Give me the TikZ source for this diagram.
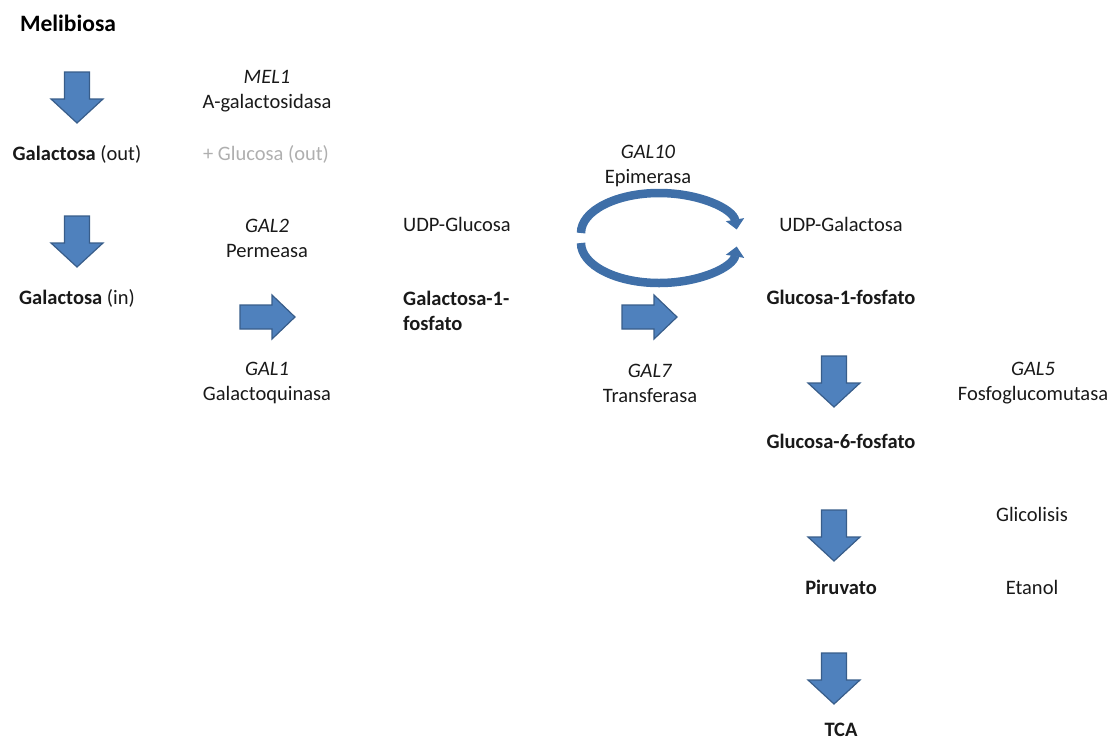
\documentclass[tikz,border=0pt]{standalone}
\usepackage{fontspec}
\setmainfont{Carlito}
\usetikzlibrary{arrows.meta}
\definecolor{arrfill}{HTML}{4F81BD}
\definecolor{arrline}{HTML}{385D8A}
\definecolor{cycblue}{HTML}{3F6FA8}
\definecolor{greytxt}{HTML}{AFAFAF}
\begin{document}
\begin{tikzpicture}[x=1pt,y=-1pt,
  txt/.style={inner sep=0pt,font=\fontsize{20.5}{25}\selectfont,text=black!90},
  ttl/.style={inner sep=0pt,font=\fontsize{23.5}{28}\selectfont\bfseries},
  two/.style={txt,align=center},
  bold/.style={txt,font=\fontsize{20.5}{25}\selectfont\bfseries},
  blockarr/.style={fill=arrfill,draw=arrline,line width=1.2pt,line join=miter},
  downarr/.pic={\path[blockarr] (-12.5,-26) -- (12.5,-26) -- (12.5,1) -- (26,1) -- (0,25) -- (-26,1) -- (-12.5,1) -- cycle;},
  rightarr/.pic={\path[blockarr] (-28,-12) -- (4,-12) -- (4,-22) -- (27,0) -- (4,22) -- (4,12) -- (-28,12) -- cycle;},
  cyc/.style={draw=cycblue,line width=8.5pt,-{Triangle[length=10pt,width=18pt]}}
]
\useasboundingbox (0,0) rectangle (1116,740);

% texts
\node[ttl,anchor=base] (meli) at (68,31) {Melibiosa};
\node[txt,anchor=base] (galout) at (77,160) {\textbf{Galactosa} (out)};
\node[txt,anchor=base,text=greytxt] (gluout) at (266,160) {+ Glucosa (out)};
\node[two] (mel1) at (267,91.5) {\textit{MEL1}\\A-galactosidasa};
\node[two] (gal2) at (267,238) {\textit{GAL2}\\Permeasa};
\node[txt,anchor=base] (udpglu) at (457,231) {UDP-Glucosa};
\node[two] (gal10) at (648,166) {\textit{GAL10}\\Epimerasa};
\node[txt,anchor=base] (udpgal) at (841,231) {UDP-Galactosa};
\node[txt,anchor=base] (galin) at (77,304) {\textbf{Galactosa} (in)};
\node[bold,align=left,anchor=west] (gal1p) at (403,311) {Galactosa-1-\\fosfato};
\node[bold,anchor=base] (glu1p) at (841,304) {Glucosa-1-fosfato};
\node[two] (gal1) at (267,383) {\textit{GAL1}\\Galactoquinasa};
\node[two] (gal7) at (650,383) {\textit{GAL7}\\Transferasa};
\node[two] (gal5) at (1033,383) {\textit{GAL5}\\Fosfoglucomutasa};
\node[bold,anchor=base] (glu6p) at (841,448) {Glucosa-6-fosfato};
\node[txt,anchor=base] (glic) at (1032,521) {Glicolisis};
\node[bold,anchor=base] (piru) at (841,594) {Piruvato};
\node[txt,anchor=base] (etan) at (1032,594) {Etanol};
\node[bold,anchor=base] (tca) at (841,736) {TCA};

% block arrows
\pic at (77,98) {downarr};
\pic at (77,242) {downarr};
\pic at (268,317) {rightarr};
\pic at (650,317) {rightarr};
\pic at (834,382) {downarr};
\pic at (834,536) {downarr};
\pic at (834,679) {downarr};

% epimerase cycle
\draw[cyc] (581,233) arc[start angle=180,end angle=355,x radius=78,y radius=40];
\draw[cyc] (581,243) arc[start angle=180,end angle=5,x radius=78,y radius=40];
\end{tikzpicture}
\end{document}
